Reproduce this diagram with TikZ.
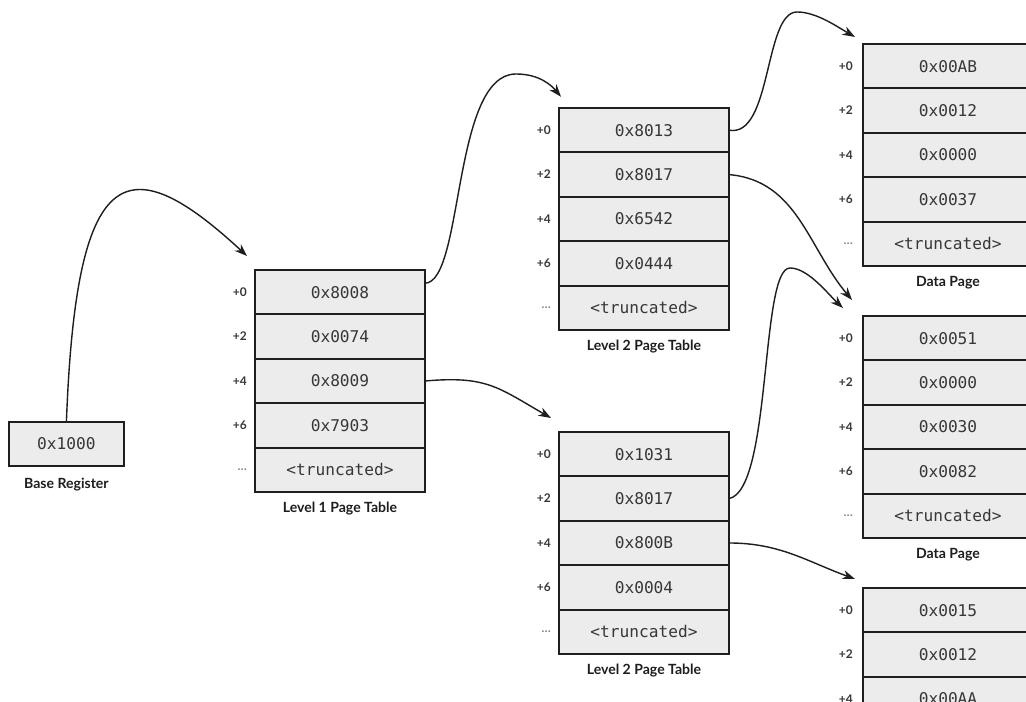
\documentclass[tikz,border=0pt]{standalone}
\usepackage{fontspec}
\setmainfont{Lato}
\setmonofont{DejaVu Sans Mono}
\usepackage{tikz}
\usetikzlibrary{arrows.meta,positioning}
\definecolor{mdark}{RGB}{30,30,30}
\definecolor{mgray}{RGB}{236,236,236}
\definecolor{mtext}{RGB}{55,55,55}

\begin{document}
\begin{tikzpicture}[
    cell/.style={draw=mdark, line width=1.3pt, fill=mgray, minimum width=4.25cm,
                 minimum height=1.11cm, inner sep=0pt, outer sep=0pt, text=mtext,
                 font=\ttfamily\fontsize{11.5}{13}\selectfont},
    reg/.style={cell, minimum width=2.875cm, minimum height=1.1cm},
    offs/.style={font=\bfseries\fontsize{8.5}{10}\selectfont, text=mtext, inner sep=0pt},
    tabcap/.style={font=\bfseries\fontsize{10}{12}\selectfont, text=mdark, inner sep=0pt},
    arr/.style={-{Stealth[length=9pt,width=6.5pt]}, line width=1pt, mdark},
  ]
    \path[use as bounding box, fill=white] (0,0) rectangle (25.65,17.55);
    \clip (0,0) rectangle (25.65,17.55);

    % base register
    \node[reg] (base) at (1.66,6.45) {0x1000};
    \node[tabcap, below=0.3cm of base] (basecap) {Base Register};

    % level 1 page table
    \node[cell] (t1r0) at (8.5,10.245) {0x8008};
    \node[cell, below=0pt of t1r0] (t1r1) {0x0074};
    \node[cell, below=0pt of t1r1] (t1r2) {0x8009};
    \node[cell, below=0pt of t1r2] (t1r3) {0x7903};
    \node[cell, below=0pt of t1r3] (t1r4) {<truncated>};
    \node[offs, left=0.2cm of t1r0] (t1o0) {+0};
    \node[offs, left=0.2cm of t1r1] (t1o1) {+2};
    \node[offs, left=0.2cm of t1r2] (t1o2) {+4};
    \node[offs, left=0.2cm of t1r3] (t1o3) {+6};
    \node[offs, left=0.2cm of t1r4, text=gray] (t1o4) {\dots};
    \node[tabcap, below=0.24cm of t1r4] (t1cap) {Level 1 Page Table};

    % level 2 page table (upper)
    \node[cell] (t2ar0) at (16.1,14.295) {0x8013};
    \node[cell, below=0pt of t2ar0] (t2ar1) {0x8017};
    \node[cell, below=0pt of t2ar1] (t2ar2) {0x6542};
    \node[cell, below=0pt of t2ar2] (t2ar3) {0x0444};
    \node[cell, below=0pt of t2ar3] (t2ar4) {<truncated>};
    \node[offs, left=0.2cm of t2ar0] (t2ao0) {+0};
    \node[offs, left=0.2cm of t2ar1] (t2ao1) {+2};
    \node[offs, left=0.2cm of t2ar2] (t2ao2) {+4};
    \node[offs, left=0.2cm of t2ar3] (t2ao3) {+6};
    \node[offs, left=0.2cm of t2ar4, text=gray] (t2ao4) {\dots};
    \node[tabcap, below=0.24cm of t2ar4] (t2acap) {Level 2 Page Table};

    % level 2 page table (lower)
    \node[cell] (t2br0) at (16.1,6.195) {0x1031};
    \node[cell, below=0pt of t2br0] (t2br1) {0x8017};
    \node[cell, below=0pt of t2br1] (t2br2) {0x800B};
    \node[cell, below=0pt of t2br2] (t2br3) {0x0004};
    \node[cell, below=0pt of t2br3] (t2br4) {<truncated>};
    \node[offs, left=0.2cm of t2br0] (t2bo0) {+0};
    \node[offs, left=0.2cm of t2br1] (t2bo1) {+2};
    \node[offs, left=0.2cm of t2br2] (t2bo2) {+4};
    \node[offs, left=0.2cm of t2br3] (t2bo3) {+6};
    \node[offs, left=0.2cm of t2br4, text=gray] (t2bo4) {\dots};
    \node[tabcap, below=0.24cm of t2br4] (t2bcap) {Level 2 Page Table};

    % data pages
    \node[cell] (dp1r0) at (23.7,15.895) {0x00AB};
    \node[cell, below=0pt of dp1r0] (dp1r1) {0x0012};
    \node[cell, below=0pt of dp1r1] (dp1r2) {0x0000};
    \node[cell, below=0pt of dp1r2] (dp1r3) {0x0037};
    \node[cell, below=0pt of dp1r3] (dp1r4) {<truncated>};
    \node[offs, left=0.25cm of dp1r0] (dp1o0) {+0};
    \node[offs, left=0.25cm of dp1r1] (dp1o1) {+2};
    \node[offs, left=0.25cm of dp1r2] (dp1o2) {+4};
    \node[offs, left=0.25cm of dp1r3] (dp1o3) {+6};
    \node[offs, left=0.25cm of dp1r4, text=gray] (dp1o4) {\dots};
    \node[tabcap, below=0.24cm of dp1r4] (dp1cap) {Data Page};

    \node[cell] (dp2r0) at (23.7,9.095) {0x0051};
    \node[cell, below=0pt of dp2r0] (dp2r1) {0x0000};
    \node[cell, below=0pt of dp2r1] (dp2r2) {0x0030};
    \node[cell, below=0pt of dp2r2] (dp2r3) {0x0082};
    \node[cell, below=0pt of dp2r3] (dp2r4) {<truncated>};
    \node[offs, left=0.25cm of dp2r0] (dp2o0) {+0};
    \node[offs, left=0.25cm of dp2r1] (dp2o1) {+2};
    \node[offs, left=0.25cm of dp2r2] (dp2o2) {+4};
    \node[offs, left=0.25cm of dp2r3] (dp2o3) {+6};
    \node[offs, left=0.25cm of dp2r4, text=gray] (dp2o4) {\dots};
    \node[tabcap, below=0.24cm of dp2r4] (dp2cap) {Data Page};

    \node[cell] (dp3r0) at (23.7,2.295) {0x0015};
    \node[cell, below=0pt of dp3r0] (dp3r1) {0x0012};
    \node[cell, below=0pt of dp3r1] (dp3r2) {0x00AA};
    \node[offs, left=0.25cm of dp3r0] (dp3o0) {+0};
    \node[offs, left=0.25cm of dp3r1] (dp3o1) {+2};
    \node[offs, left=0.25cm of dp3r2] (dp3o2) {+4};

    % arrow ends
    \coordinate (t1in)   at ([shift={(-0.2,0.35)}]t1r0.north west);
    \coordinate (t2ain)  at ([shift={(0.05,0.28)}]t2ar0.north west);
    \coordinate (t2bin)  at ([shift={(-0.2,0.35)}]t2br0.north west);
    \coordinate (dp1in)  at ([shift={(-0.2,0.175)}]dp1r0.north west);
    \coordinate (dp2in)  at ([shift={(-0.275,0.4)}]dp2r0.north west);
    \coordinate (dp2inb) at ([shift={(-0.5,0.2)}]dp2r0.north west);
    \coordinate (dp3in)  at ([shift={(-0.2,0.225)}]dp3r0.north west);

    \draw[arr] (base.north) .. controls (1.9,13.4) and (3.1,14.0) .. (t1in);
    \draw[arr] (t1r0.6) .. controls (11.6,10.5) and (11.3,15.7) .. (12.9,15.7)
                        .. controls (13.5,15.7) and (13.8,15.4) .. (t2ain);
    \draw[arr] (t1r2.east) to[out=5, in=150, looseness=1.2] (t2bin);
    \draw[arr] (t2ar0.east) .. controls (19.3,14.1) and (19.1,17.25) .. (19.925,17.25)
                            .. controls (20.4,17.25) and (20.9,16.9) .. (dp1in);
    \draw[arr] (t2ar1.east) to[out=-5, in=130] (dp2in);
    \draw[arr] (t2br1.east) .. controls (19.3,5.3) and (19.0,10.85) .. (19.75,10.85)
                            .. controls (20.2,10.85) and (20.7,10.2) .. (dp2inb);
    \draw[arr] (t2br2.east) to[out=0, in=160] (dp3in);
  \end{tikzpicture}
\end{document}
